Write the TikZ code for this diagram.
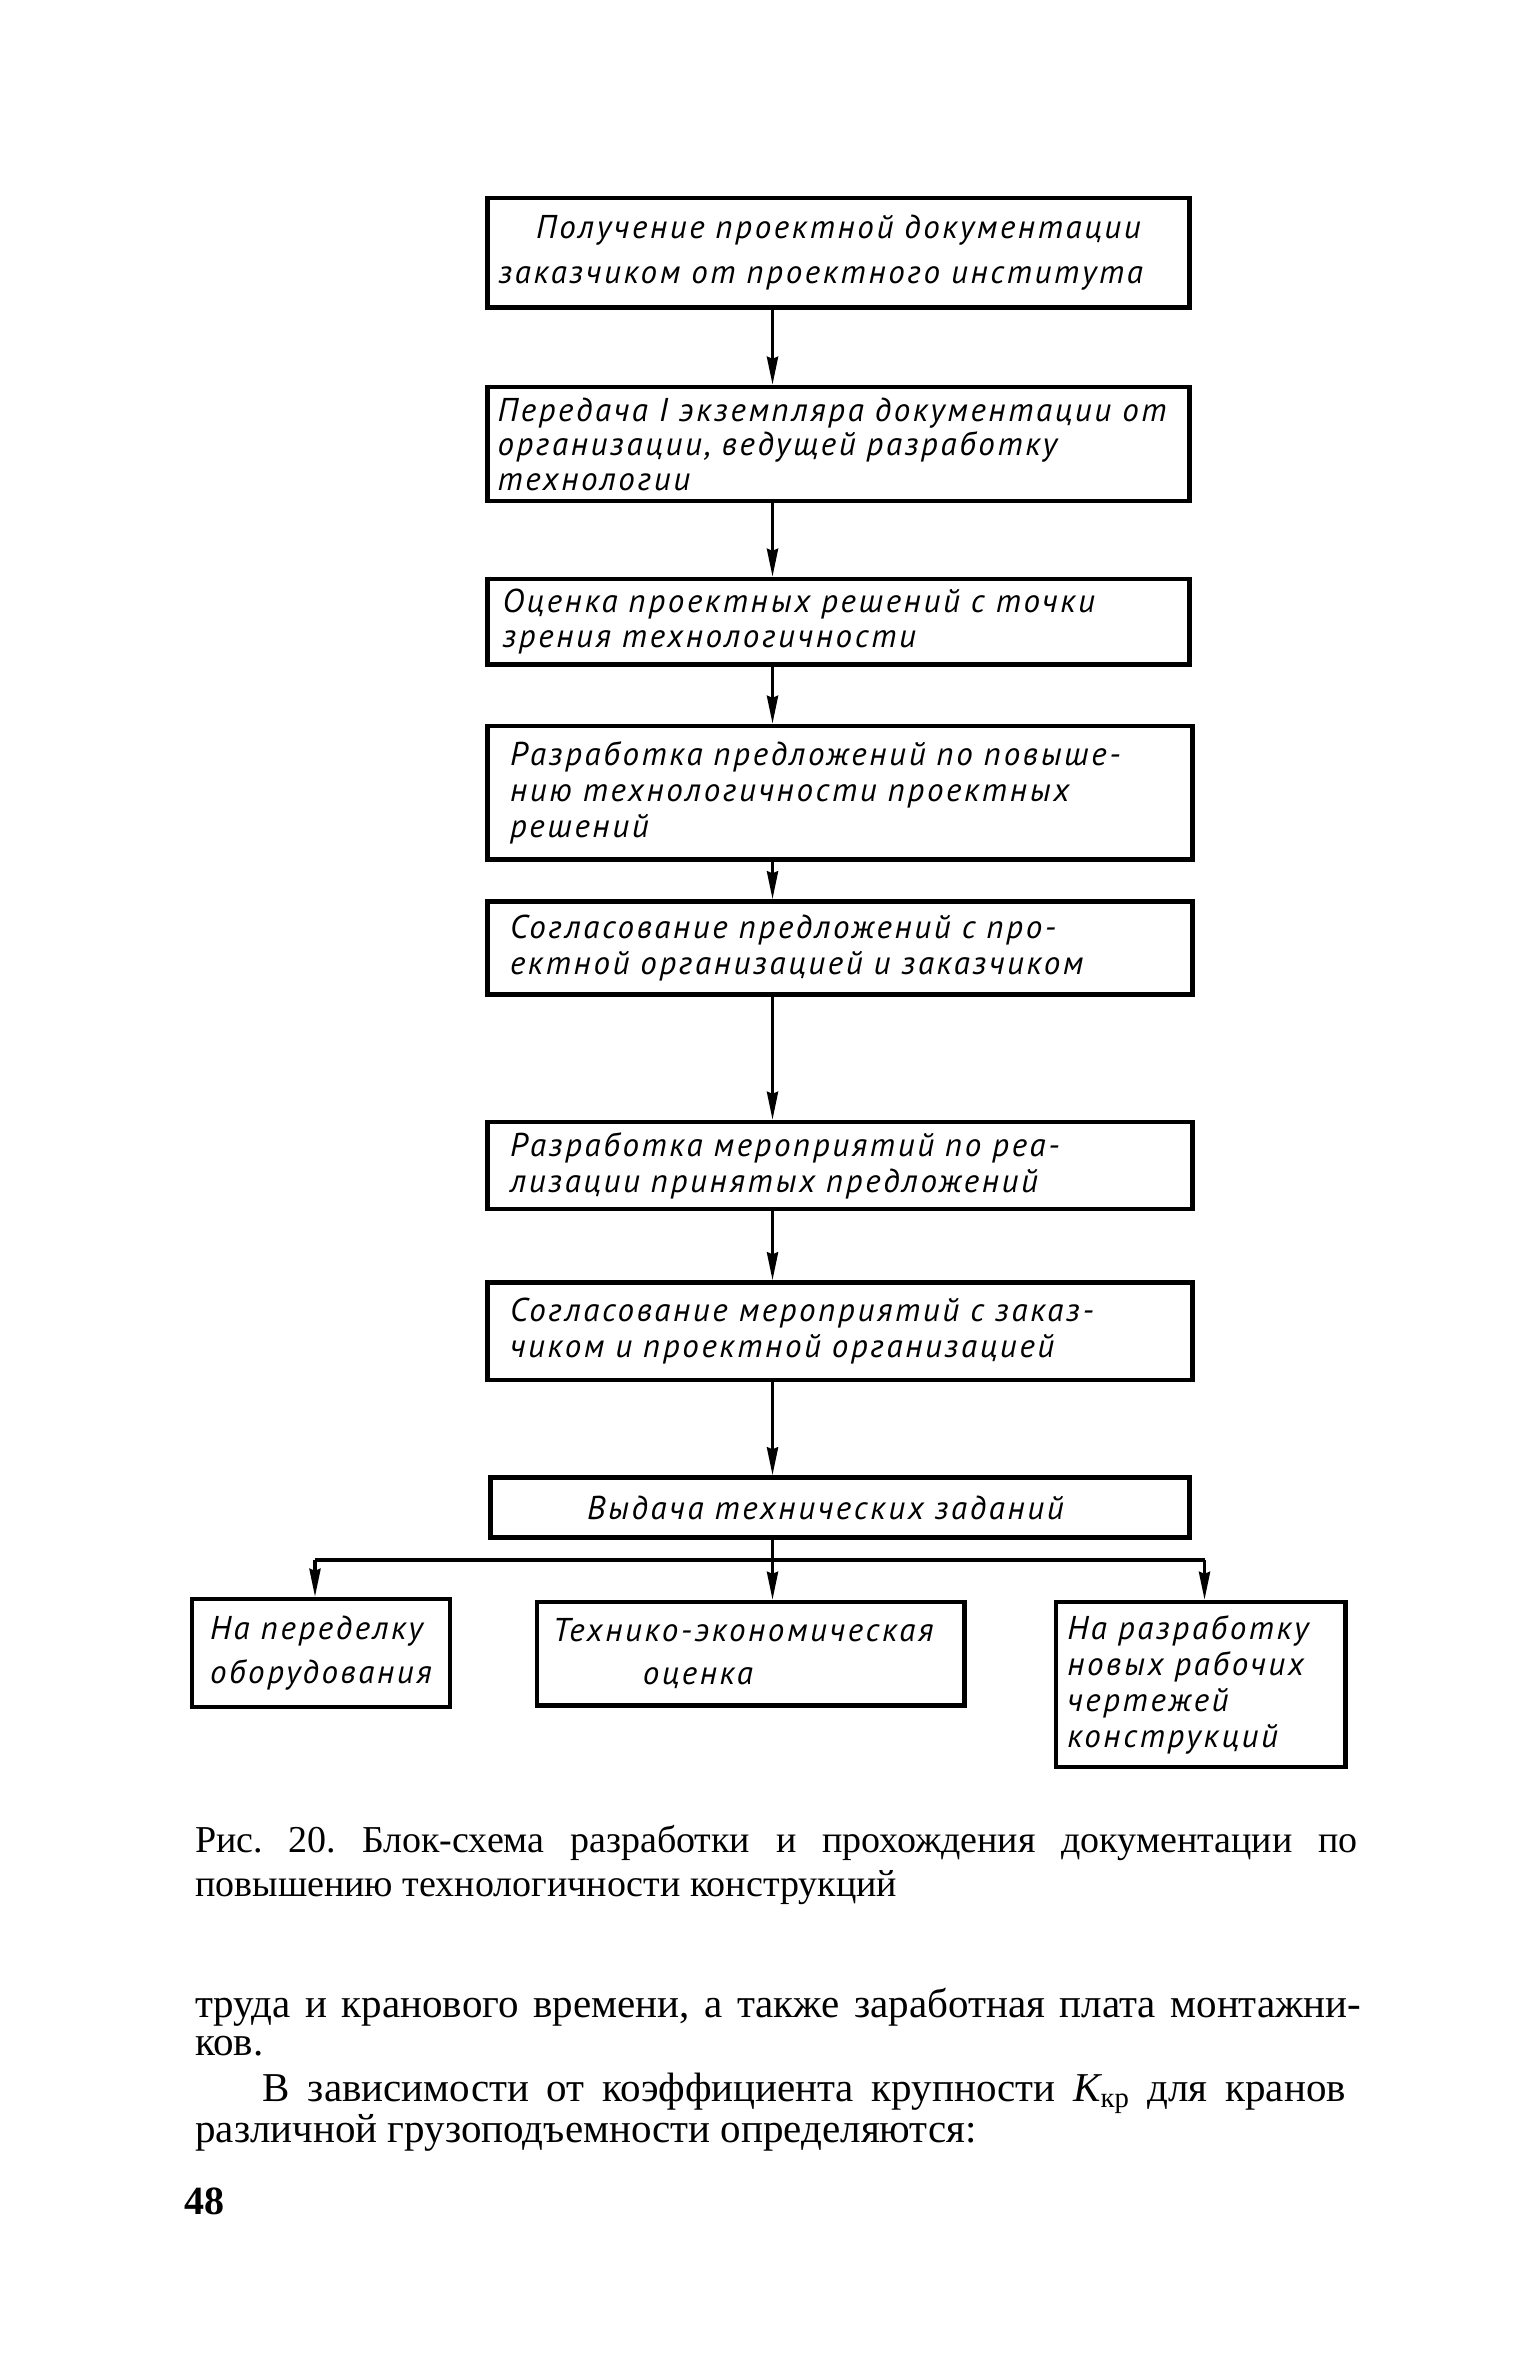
\documentclass[tikz,border=0pt]{standalone}
\usepackage{fontspec}
\setmainfont{Liberation Serif}
\newfontfamily\gost{PT Sans}[LetterSpace=8]
\usetikzlibrary{arrows.meta}
\newcommand\jl[2]{\makebox[#1][s]{#2}}
\frenchspacing
\begin{document}
\begin{tikzpicture}[x=0.75pt,y=-0.75pt,
  box/.style={draw, line width=2.2pt, inner sep=0pt, align=left,
    font=\gost\itshape\fontsize{16.5}{#1}\selectfont},
  box/.default=18,
  ln/.style={line width=1.7pt},
  arr/.style={line width=1.7pt, -{Stealth[length=14pt,width=5.5pt,inset=1pt]}},
  txt/.style={anchor=base west, inner sep=0pt, font=\fontsize{19}{22}\selectfont},
  body/.style={txt, font=\fontsize{20.5}{24}\selectfont}]
\fill[white] (0,0) rectangle (1024,1575.33);
\useasboundingbox (0,0) rectangle (1024,1575.33);

\coordinate (ax) at (515,0);

\node[box=22.5, align=center, minimum width=351pt, minimum height=54.75pt, text width=342pt] (b1) at (559,168.5)
  {Получение проектной документации\\ \jl{340pt}{заказчиком от проектного института}};
\node[box=17.25, minimum width=351pt, minimum height=57pt, text width=341pt] (b2) at (559,296)
  {\jl{341pt}{Передача I экземпляра документации от}\\ \jl{316pt}{организации, ведущей разработку}\\ технологии};
\node[box=17.25, minimum width=351pt, minimum height=42.75pt, text width=336pt] (b3) at (559,414.5)
  {\jl{336pt}{Оценка проектных решений с точки}\\ \jl{231pt}{зрения технологичности}};
\node[box=18, minimum width=352.5pt, minimum height=66.75pt, text width=330pt] (b4) at (560,528.5)
  {\jl{330pt}{Разработка предложений по повыше-}\\ \jl{322pt}{нию технологичности проектных}\\ решений};
\node[box=18, minimum width=352.5pt, minimum height=46.5pt, text width=330pt] (b5) at (560,632)
  {\jl{330pt}{Согласование предложений с про-}\\ \jl{320pt}{ектной организацией и заказчиком}};
\node[box=18, minimum width=352.5pt, minimum height=43.5pt, text width=330pt] (b6) at (560,777)
  {\jl{326pt}{Разработка мероприятий по реа-}\\ \jl{306pt}{лизации принятых предложений}};
\node[box=18, minimum width=352.5pt, minimum height=48.75pt, text width=330pt] (b7) at (560,887.5)
  {\jl{326pt}{Согласование мероприятий с заказ-}\\ \jl{295pt}{чиком и проектной организацией}};
\node[box=18, align=center, minimum width=349.5pt, minimum height=30pt, text width=330pt] (b8) at (560,1005)
  {\jl{253pt}{Выдача технических заданий}};

\node[box=21.75, minimum width=129pt, minimum height=54pt, text width=111pt] (b9) at (214,1102)
  {\jl{110pt}{На переделку}\\ оборудования};
\node[box=21.75, minimum width=213.75pt, minimum height=51.75pt, text width=198pt] (b10) at (500.5,1102.5)
  {Технико-экономическая\\ \hspace*{45pt}оценка};
\node[box=18, minimum width=144.75pt, minimum height=82.5pt, text width=133.5pt] (b11) at (800.5,1123)
  {\jl{133.5pt}{На разработку}\\ \jl{126pt}{новых рабочих}\\ чертежей\\ конструкций};

\draw[arr] (b1.south -| ax) -- (b2.north -| ax);
\draw[arr] (b2.south -| ax) -- (b3.north -| ax);
\draw[arr] (b3.south -| ax) -- (b4.north -| ax);
\draw[arr] (b4.south -| ax) -- (b5.north -| ax);
\draw[arr] (b5.south -| ax) -- (b6.north -| ax);
\draw[arr] (b6.south -| ax) -- (b7.north -| ax);
\draw[arr] (b7.south -| ax) -- (b8.north -| ax);

\coordinate (jl) at (210,1040);
\coordinate (jc) at (515,1040);
\coordinate (jr) at (803,1040);
\draw[ln] (b8.south -| jc) -- (jc);
\draw[ln] (jl) -- (jr);
\draw[arr] (jl) -- (b9.north -| jl);
\draw[arr] (jc) -- (b10.north -| jc);
\draw[arr] (jr) -- (b11.north -| jr);

\node[txt] (cap1) at (130,1235) {\jl{581pt}{Рис. 20. Блок-схема разработки и прохождения документации по}};
\node[txt] (cap2) at (130,1264) {повышению технологичности конструкций};
\node[body] (t1) at (130,1345) {\jl{583pt}{труда и кранового времени, а также заработная плата монтажни-}};
\node[body] (t2) at (130,1370) {ков.};
\node[body] (t3) at (175,1401) {\jl{541.5pt}{В зависимости от коэффициента крупности {\itshape К}\textsubscript{кр} для кранов}};
\node[body] (t4) at (130,1428) {различной грузоподъемности определяются:};
\node[txt, font=\fontsize{20}{22}\selectfont\bfseries] (pg) at (123,1476) {48};
\end{tikzpicture}
\end{document}
